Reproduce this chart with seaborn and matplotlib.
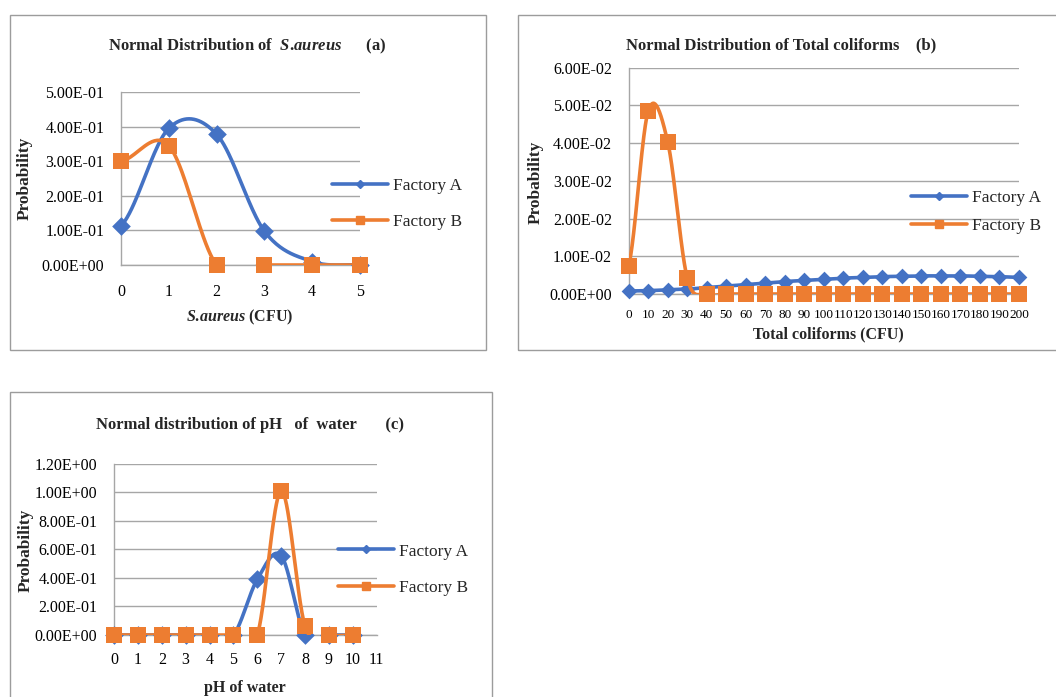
import numpy as np
import pandas as pd
import matplotlib
matplotlib.use("Agg")
import matplotlib.pyplot as plt
from matplotlib.lines import Line2D
from matplotlib.patches import Rectangle
import seaborn as sns

# ---------------- data ----------------
sa_cfu = ["0", "1", "2", "3", "4", "5"]
sa_factory_a = [0.113, 0.395, 0.378, 0.098, 0.010, 0.0005]
sa_factory_b = [0.300, 0.345, 0.0, 0.0, 0.0, 0.0]

tc_cfu = [str(v) for v in range(0, 201, 10)]
tc_factory_a = [0.0008, 0.0009, 0.0011, 0.0013, 0.0017, 0.0021, 0.0025, 0.0029,
                0.0033, 0.0036, 0.0039, 0.0042, 0.0044, 0.0046, 0.0047, 0.0048,
                0.0048, 0.0048, 0.0047, 0.0046, 0.0044]
tc_factory_b = [0.0075, 0.0485, 0.0403, 0.0042] + [0.0] * 17

ph_values = [str(v) for v in range(0, 12)]
ph_factory_a = [0.0, 0.0, 0.0, 0.0, 0.0, 0.0, 0.39, 0.556, 0.0, 0.0, 0.0]
ph_factory_b = [0.0, 0.0, 0.0, 0.0, 0.0, 0.0, 0.0, 1.01, 0.063, 0.0, 0.0]

BLUE = "#4472C4"
ORANGE = "#ED7D31"
GRID = "#A6A6A6"
FRAME = "#9C9C9C"

W, H = 1056, 697

sns.set_theme(style="white")
plt.rcParams["font.family"] = ["Liberation Serif", "DejaVu Serif"]
plt.rcParams["mathtext.fontset"] = "custom"
plt.rcParams["mathtext.rm"] = "Liberation Serif:bold"
plt.rcParams["mathtext.bf"] = "Liberation Serif:bold"
plt.rcParams["mathtext.it"] = "Liberation Serif:italic:bold"


def smooth(values, steps=40):
    """Cardinal (Catmull-Rom) spline through the points, in category-index space."""
    y = np.asarray(values, float)
    n = len(y)
    m = np.empty(n)
    m[1:-1] = (y[2:] - y[:-2]) / 2.0
    m[0] = (y[1] - y[0]) / 2.0
    m[-1] = (y[-1] - y[-2]) / 2.0
    xs, ys = [], []
    t = np.linspace(0, 1, steps, endpoint=False)
    h00 = 2 * t**3 - 3 * t**2 + 1
    h10 = t**3 - 2 * t**2 + t
    h01 = -2 * t**3 + 3 * t**2
    h11 = t**3 - t**2
    for i in range(n - 1):
        xs.append(i + t)
        ys.append(h00 * y[i] + h10 * m[i] + h01 * y[i + 1] + h11 * m[i + 1])
    xs.append(np.array([n - 1.0]))
    ys.append(np.array([y[-1]]))
    return pd.DataFrame({"x": np.concatenate(xs), "y": np.concatenate(ys)})


def px_axes(fig, left, top, right, bottom):
    return fig.add_axes([left / W, 1 - bottom / H, (right - left) / W, (bottom - top) / H])


def frame(fig, left, top, right, bottom):
    fig.add_artist(Rectangle((left / W, 1 - bottom / H), (right - left) / W,
                             (bottom - top) / H, transform=fig.transFigure,
                             fill=False, ec=FRAME, lw=1.0, clip_on=False))


def label(fig, x, y, text, size=12.5, **kw):
    fig.text(x / W, 1 - y / H, text, fontsize=size, fontweight="bold",
             ha="center", va="center", **kw)


def draw_panel(ax, labels, ya, yb, ymax, ystep, xmax, xtick_size,
               ms_d, ms_s, xpad, lw=2.6):
    n = len(ya)
    idx = np.arange(n)
    sa = smooth(ya)
    sb = smooth(yb)
    sns.lineplot(data=sa, x="x", y="y", ax=ax, color=BLUE, lw=lw, sort=False,
                 estimator=None, zorder=2)
    sns.scatterplot(x=idx, y=ya, ax=ax, marker="D", s=ms_d**2, color=BLUE,
                    linewidth=0, clip_on=False, zorder=3)
    sns.lineplot(data=sb, x="x", y="y", ax=ax, color=ORANGE, lw=lw, sort=False,
                 estimator=None, zorder=4)
    sns.scatterplot(x=idx, y=yb, ax=ax, marker="s", s=ms_s**2, color=ORANGE,
                    linewidth=0, clip_on=False, zorder=5)

    ax.set_xlim(0, xmax)
    ax.set_ylim(0, ymax)
    ax.set_xticks(np.arange(len(labels)))
    ax.set_xticklabels(labels, fontsize=xtick_size)
    yt = np.arange(0, ymax + ystep / 2, ystep)
    ax.set_yticks(yt)
    ax.set_yticklabels([f"{v:.2E}" for v in yt], fontsize=11.5)
    ax.tick_params(axis="both", length=0, colors="black")
    ax.tick_params(axis="y", pad=12)
    ax.tick_params(axis="x", pad=xpad)
    ax.grid(axis="y", color=GRID, lw=1.0)
    ax.grid(axis="x", visible=False)
    ax.set_axisbelow(True)
    for side in ("top", "right"):
        ax.spines[side].set_visible(False)
    for side in ("left", "bottom"):
        ax.spines[side].set_color(GRID)
        ax.spines[side].set_linewidth(1.0)
    ax.set_xlabel("")
    ax.set_ylabel("")
    ax.set_facecolor("none")


def add_legend(fig, ax, x_left, y_center, spacing):
    handles = [
        Line2D([], [], color=BLUE, lw=2.6, marker="D", ms=4),
        Line2D([], [], color=ORANGE, lw=2.6, marker="s", ms=6),
    ]
    ax.legend(handles=handles, labels=["Factory A", "Factory B"],
              loc="center left", bbox_to_anchor=(x_left / W, 1 - y_center / H),
              bbox_transform=fig.transFigure, frameon=False, fontsize=12.5,
              handlelength=3.2, handletextpad=0.3, labelspacing=spacing,
              borderpad=0, borderaxespad=0)


fig = plt.figure(figsize=(W / 100, H / 100), dpi=100)

# panel frames
frame(fig, 9.5, 14.5, 485.5, 350)
frame(fig, 517.5, 14.5, 1062, 350)
frame(fig, 10, 392.5, 492, 702)

# (a) S.aureus
ax_a = px_axes(fig, 121, 92, 360, 265)
draw_panel(ax_a, sa_cfu, sa_factory_a, sa_factory_b, 0.5, 0.1, 5, 11.5,
           ms_d=9.5, ms_s=11.5, xpad=13.5)
add_legend(fig, ax_a, 332, 204, 1.12)
label(fig, 247, 46, r"Normal Distribution of  $\mathit{S.\!aureus}$      (a)", size=12)
label(fig, 240, 317, r"$\mathit{S.\!aureus}$ (CFU)", size=11.5)
label(fig, 25, 178, "Probability", rotation=90)

# (b) Total coliforms
ax_b = px_axes(fig, 628.7, 67.7, 1019, 294)
draw_panel(ax_b, tc_cfu, tc_factory_a, tc_factory_b, 0.06, 0.01, 20, 9.5,
           ms_d=8.0, ms_s=11.5, xpad=11)
add_legend(fig, ax_b, 911, 212, 0.68)
label(fig, 781, 45, "Normal Distribution of Total coliforms    (b)", size=12)
label(fig, 828, 334, "Total coliforms (CFU)", size=11.5)
label(fig, 536, 182, "Probability", rotation=90)

# (c) pH of water
ax_c = px_axes(fig, 114, 463.7, 376.7, 635)
draw_panel(ax_c, ph_values, ph_factory_a, ph_factory_b, 1.2, 0.2, 11, 11.5,
           ms_d=9.5, ms_s=12, xpad=12.5)
add_legend(fig, ax_c, 338, 569.5, 1.15)
label(fig, 250, 425, "Normal distribution of pH   of  water       (c)", size=12)
label(fig, 245, 688, "pH of water", size=11.5)
label(fig, 26, 550, "Probability", rotation=90)

fig.savefig("out.png", dpi=100, facecolor="white")
